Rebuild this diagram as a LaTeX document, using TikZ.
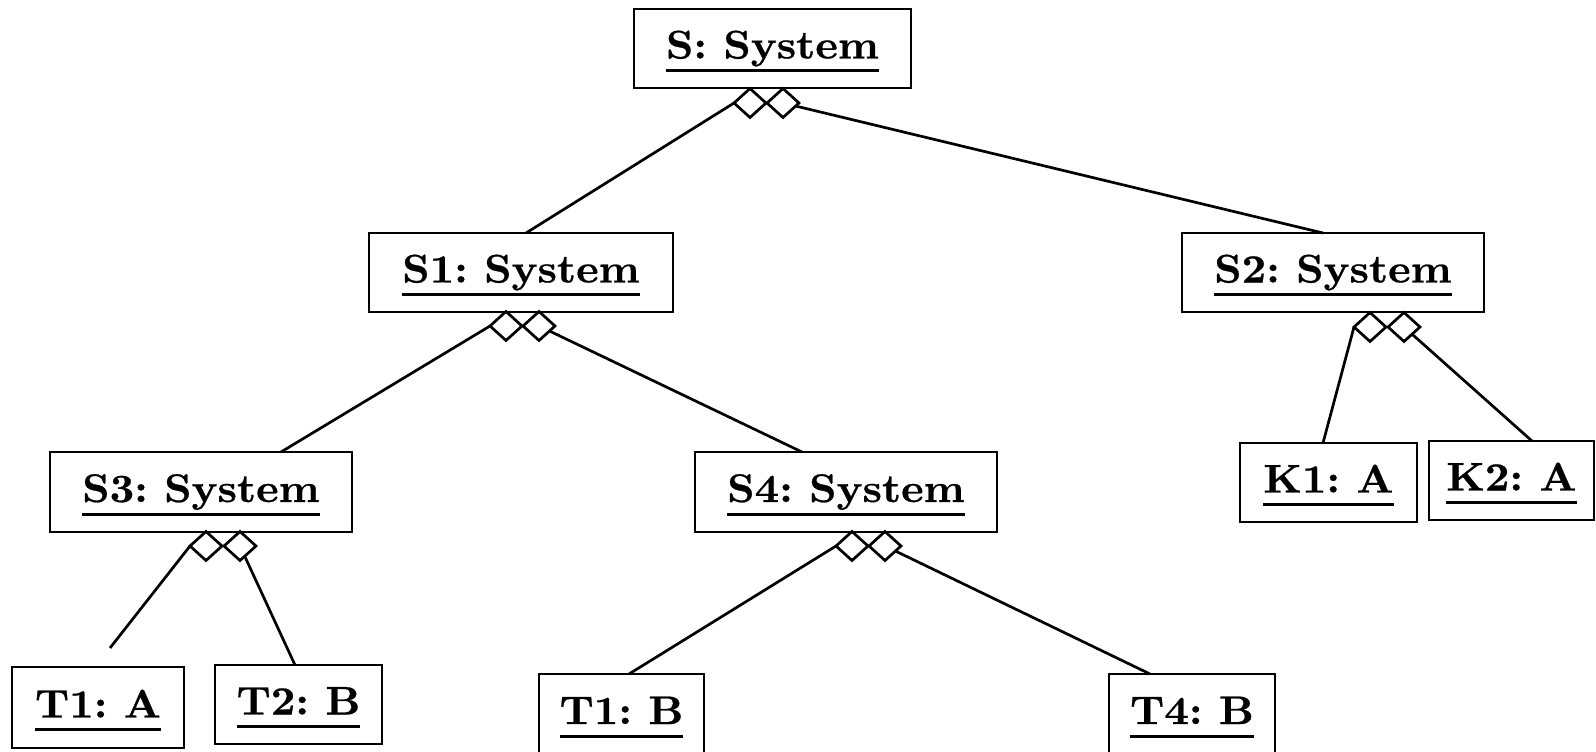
\documentclass[tikz,border=0pt]{standalone}
\usepackage{fontspec}
\setmainfont{lmroman10-regular.otf}[BoldFont=lmroman10-bold.otf, FakeStretch=1.07, BoldFeatures={FakeBold=0.6}]
\usetikzlibrary{shapes.geometric}
% underlined object name (UML instance notation)
\newcommand{\ulab}[1]{\setbox0\hbox{#1}\rlap{\smash{\rule[-13.5pt]{\wd0}{2.6pt}}}\box0}
\tikzset{
  obj/.style={draw, line width=2.7pt, anchor=north west, inner sep=0pt, outer sep=0pt,
    text height=27pt, text depth=7pt, fill=white,
    font=\fontsize{40}{42}\selectfont\bfseries\frenchspacing},
  agg/.style={draw, diamond, line width=2.7pt, fill=white, inner sep=0pt, outer sep=0pt,
    minimum width=32pt, minimum height=29pt},
  link/.style={line width=2.7pt},
}
\begin{document}
\begin{tikzpicture}[x=1pt,y=-1pt]
\useasboundingbox (0,0) rectangle (1596,752);

% object boxes
\node[obj, minimum width=277pt, minimum height=79pt] (S)   at (634,9)    {\ulab{S: System}};
\node[obj, minimum width=304pt, minimum height=79pt] (S1)  at (369,233)  {\ulab{S1: System}};
\node[obj, minimum width=302pt, minimum height=79pt] (S2)  at (1182,233) {\ulab{S2: System}};
\node[obj, minimum width=302pt, minimum height=80pt] (S3)  at (50,452)   {\ulab{S3: System}};
\node[obj, minimum width=302pt, minimum height=80pt] (S4)  at (695,452)  {\ulab{S4: System}};
\node[obj, minimum width=177pt, minimum height=79pt] (K1)  at (1240,443) {\ulab{K1: A}};
\node[obj, minimum width=165pt, minimum height=79pt] (K2)  at (1429,441) {\ulab{K2: A}};
\node[obj, minimum width=172pt, minimum height=81pt] (T1A) at (12,667)   {\ulab{T1: A}};
\node[obj, minimum width=167pt, minimum height=79pt] (T2B) at (215,665)  {\ulab{T2: B}};
\node[obj, minimum width=165pt, minimum height=80pt] (T1B) at (539,674)  {\ulab{T1: B}};
\node[obj, minimum width=166pt, minimum height=80pt] (T4B) at (1109,674) {\ulab{T4: B}};

% aggregation diamonds
\node[agg] (sd1)  at (750,103) {};
\node[agg] (sd2)  at (783,103) {};
\node[agg] (s1d1) at (506,326) {};
\node[agg] (s1d2) at (539,326) {};
\node[agg] (s2d1) at (1370,327) {};
\node[agg] (s2d2) at (1404,327) {};
\node[agg] (s3d1) at (206,546) {};
\node[agg] (s3d2) at (240,546) {};
\node[agg] (s4d1) at (852,546) {};
\node[agg] (s4d2) at (885,546) {};

\coordinate (t1end) at (110,648);

% connectors
\draw[link] (sd1.west)  -- ([xshift=5pt]S1.north);
\draw[link] (sd2)       -- ([xshift=-10pt]S2.north);
\draw[link] (s1d1.west) -- ([xshift=80pt]S3.north);
\draw[link] (s1d2)      -- ([xshift=-44pt]S4.north);
\draw[link] (s2d1.west) -- ([xshift=-5.5pt]K1.north);
\draw[link] (s2d2)      -- ([xshift=20.5pt]K2.north);
\draw[link] (s3d1.west) -- (t1end);
\draw[link] (s3d2)      -- ([xshift=-3.5pt]T2B.north);
\draw[link] (s4d1.west) -- ([xshift=7.5pt]T1B.north);
\draw[link] (s4d2)      -- ([xshift=-42pt]T4B.north);
\end{tikzpicture}
\end{document}
